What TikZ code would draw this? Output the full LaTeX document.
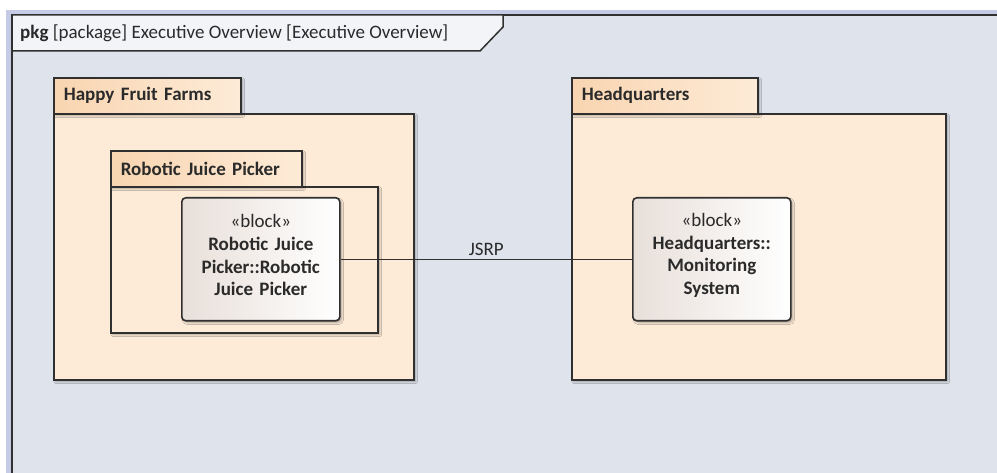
\documentclass[tikz,border=0pt]{standalone}
\usepackage{fontspec}
\setmainfont{Carlito}
\usetikzlibrary{shadows.blur}

\definecolor{framebg}{HTML}{DFE3EC}
\definecolor{framestrip}{HTML}{C5CBE5}
\definecolor{pkgfill}{HTML}{FDEBD7}
\definecolor{tabdark}{HTML}{F9D5B1}
\definecolor{blockgray}{HTML}{E8DFD9}
\definecolor{edgegray}{HTML}{303030}
\definecolor{textgray}{HTML}{2A2A2A}

\newcommand{\diagfont}{\fontsize{19}{22.7}\selectfont}

\tikzset{
  shade/.style={blur shadow={shadow xshift=2pt,shadow yshift=-2pt,shadow blur steps=4,shadow opacity=30}},
  pkgtab/.style={draw=edgegray,line width=1.6pt,left color=tabdark,right color=pkgfill,
    anchor=north west,inner xsep=10pt,inner ysep=0pt,minimum height=36pt,
    font=\diagfont\bfseries,align=left,shade},
  pkgbody/.style={draw=edgegray,line width=1.6pt,fill=pkgfill,anchor=north west,
    inner sep=0pt,shade},
  block/.style={draw=edgegray,line width=1.6pt,rounded corners=4pt,left color=blockgray,
    right color=white,anchor=north west,inner sep=0pt,align=center,
    execute at end node={\par\vspace*{8pt}},
    minimum width=158pt,minimum height=123pt,text width=150pt,shade},
  conn/.style={draw=edgegray,line width=1.4pt}
}

\begin{document}
\begin{tikzpicture}[x=1pt,y=-1pt,font=\diagfont,text=textgray]
  \useasboundingbox (0,0) rectangle (997,473);
  % diagram frame
  \fill[framestrip] (6,10) rectangle (997,473);
  \fill[framebg] (12,15) rectangle (997,473);
  \draw[edgegray,line width=1.8pt] (12,473) -- (12,15) -- (997,15);
  \draw[edgegray,line width=1.5pt,fill=white!60!framebg]
    (12,15) -- (503,15) -- (503,27) -- (480,51) -- (12,51) -- cycle;
  \node[anchor=west,inner sep=0pt] (title) at (20,33)
    {\textbf{pkg} [package] Executive Overview [Executive Overview]};

  % Happy Fruit Farms
  \node[pkgbody,minimum width=360pt,minimum height=266pt] (farmsbody) at (53,113) {};
  \node[pkgtab,text width=167pt] (farmstab) at (53,77) {Happy Fruit Farms};
  \node[pkgbody,minimum width=267pt,minimum height=146pt] (pickerbody) at (110,186) {};
  \node[pkgtab,text width=171pt] (pickertab) at (110,150) {Robotic Juice Picker};

  % Headquarters
  \node[pkgbody,minimum width=374pt,minimum height=266pt] (hqbody) at (571,113) {};
  \node[pkgtab,text width=166pt] (hqtab) at (571,77) {Headquarters};

  % blocks
  \node[block] (picker) at (181,197)
    {\guillemotleft block\guillemotright\\ \textbf{Robotic Juice}\\ \textbf{Picker::Robotic}\\ \textbf{Juice Picker}};
  \node[block] (monitor) at (632,197)
    {\guillemotleft block\guillemotright\\ \textbf{Headquarters::}\\ \textbf{Monitoring}\\ \textbf{System}};

  \draw[conn] (picker.east) -- node[above,inner sep=3pt] {JSRP} (monitor.west);
\end{tikzpicture}
\end{document}
